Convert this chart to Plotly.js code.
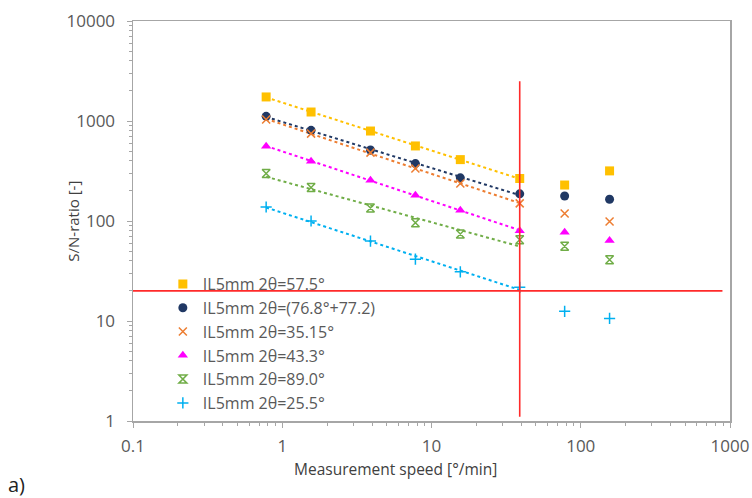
<!DOCTYPE html>
<html>
<head>
<meta charset="utf-8">
<script src="https://cdn.plot.ly/plotly-3.0.1.min.js"></script>
<style>html,body{margin:0;padding:0;background:#fff;}#chart{width:752px;height:498px;}</style>
</head>
<body>
<div id="chart"></div>
<script>
// Measurement speeds [°/min]
const speeds = [0.78, 1.56, 3.9, 7.8, 15.6, 39, 78, 156];

// S/N ratios per peak
const sn575 = [1740, 1230, 794, 563, 411, 266, 229, 317];
const sn768 = [1114, 807, 513, 375, 270, 187, 178, 165];
const sn3515 = [1033, 748, 483, 335, 237, 150, 119, 99];
const sn433 = [559, 396, 256, 181, 128, 80, 77, 64];
const sn890 = [298, 216, 135, 96, 74, 65, 56, 41];
const sn255 = [138, 100, 63, 41.5, 31, 21.7, 12.5, 10.6];

const seriesNames = [
  'IL5mm 2θ=57.5°',
  'IL5mm 2θ=(76.8°+77.2)',
  'IL5mm 2θ=35.15°',
  'IL5mm 2θ=43.3°',
  'IL5mm 2θ=89.0°',
  'IL5mm 2θ=25.5°'
];

// Trend fitted over the first N speeds
const trendCount = 6;

// Threshold lines
const limitX = [0.1, 890];
const limitY = [20, 20];
const speedLimitX = [39, 39];
const speedLimitY = [1.1, 2500];

const xTicks = [0.1, 1, 10, 100, 1000];
const xTickText = ['0.1', '1', '10', '100', '1000'];
const yTicks = [1, 10, 100, 1000, 10000];
const yTickText = ['1', '10', '100', '1000', '10000'];

const allSeries = [sn575, sn768, sn3515, sn433, sn890, sn255];
const colors = ['#FFC000', '#203864', '#ED7D31', '#FF00FF', '#70AD47', '#00B0F0'];
const symbols = ['square', 'circle', 'x-thin-open', 'triangle-up', 'hourglass-open', 'cross-thin-open'];
const sizes = [9, 9, 8, 9, 8, 8];

function powerFit(xs, ys) {
  const lx = xs.map(Math.log10), ly = ys.map(Math.log10);
  const n = lx.length;
  const mx = lx.reduce((a, b) => a + b, 0) / n;
  const my = ly.reduce((a, b) => a + b, 0) / n;
  let sxy = 0, sxx = 0;
  for (let i = 0; i < n; i++) { sxy += (lx[i] - mx) * (ly[i] - my); sxx += (lx[i] - mx) ** 2; }
  const b = sxy / sxx, a = my - b * mx;
  return x => Math.pow(10, a + b * Math.log10(x));
}

const traces = [];
allSeries.forEach((ys, i) => {
  const fx = speeds.slice(0, trendCount);
  const f = powerFit(fx, ys.slice(0, trendCount));
  const tx = [fx[0], fx[fx.length - 1]];
  traces.push({
    x: tx, y: tx.map(f), mode: 'lines', showlegend: false, hoverinfo: 'skip',
    line: {color: colors[i], width: 2, dash: 'dot'}
  });
});
allSeries.forEach((ys, i) => {
  const open = symbols[i].indexOf('open') >= 0;
  traces.push({
    x: speeds, y: ys, mode: 'markers', name: seriesNames[i],
    marker: {
      symbol: symbols[i], size: sizes[i], color: colors[i],
      line: open ? {color: colors[i], width: 1.5} : {width: 0}
    }
  });
});
traces.push({x: limitX, y: limitY, mode: 'lines', showlegend: false, hoverinfo: 'skip',
  line: {color: '#FF2A2A', width: 1.6}});
traces.push({x: speedLimitX, y: speedLimitY, mode: 'lines', showlegend: false, hoverinfo: 'skip',
  line: {color: '#FF2A2A', width: 1.6}});

const axisCommon = {
  type: 'log', showgrid: false, zeroline: false,
  showline: true, mirror: true, linecolor: '#A6A6A6', linewidth: 1.5,
  ticks: 'outside', ticklen: 5, tickcolor: '#A6A6A6', tickwidth: 1,
  tickfont: {family: 'Open Sans, sans-serif', size: 17, color: '#595959'},
  minor: {ticks: 'outside', ticklen: 3, tickcolor: '#A6A6A6', tickwidth: 1, dtick: 'D1', showgrid: false}
};

const layout = {
  width: 752, height: 498,
  margin: {l: 133, r: 22, t: 21, b: 77, pad: 0},
  paper_bgcolor: '#fff', plot_bgcolor: '#fff',
  showlegend: true,
  xaxis: Object.assign({}, axisCommon, {
    range: [-1, 3], tickmode: 'array', tickvals: xTicks, ticktext: xTickText, ticklabelstandoff: 4
  }),
  yaxis: Object.assign({}, axisCommon, {
    range: [0, 4], tickmode: 'array', tickvals: yTicks, ticktext: yTickText, ticklabelstandoff: 8
  }),
  legend: {
    x: 0.05, y: 0.385, xanchor: 'left', yanchor: 'top',
    bgcolor: 'rgba(0,0,0,0)', borderwidth: 0,
    font: {family: 'Open Sans, sans-serif', size: 16, color: '#595959'},
    itemwidth: 30, tracegroupgap: 0
  },
  annotations: [
    {text: 'Measurement speed [°/min]', xref: 'paper', yref: 'paper', x: 0.439, y: -0.12,
      xanchor: 'center', yanchor: 'middle', showarrow: false,
      font: {family: 'Open Sans, sans-serif', size: 15.5, color: '#404040'}},
    {text: 'S/N-ratio [-]', xref: 'paper', yref: 'paper', x: -0.101, y: 0.5, textangle: -90,
      xanchor: 'center', yanchor: 'middle', showarrow: false,
      font: {family: 'Open Sans, sans-serif', size: 15, color: '#404040'}},
    {text: 'a)', xref: 'paper', yref: 'paper', x: -0.195, y: -0.16,
      xanchor: 'center', yanchor: 'middle', showarrow: false,
      font: {family: 'Open Sans, sans-serif', size: 20, color: '#222'}}
  ]
};

Plotly.newPlot('chart', traces, layout, {displayModeBar: false, staticPlot: true});
</script>
</body>
</html>
